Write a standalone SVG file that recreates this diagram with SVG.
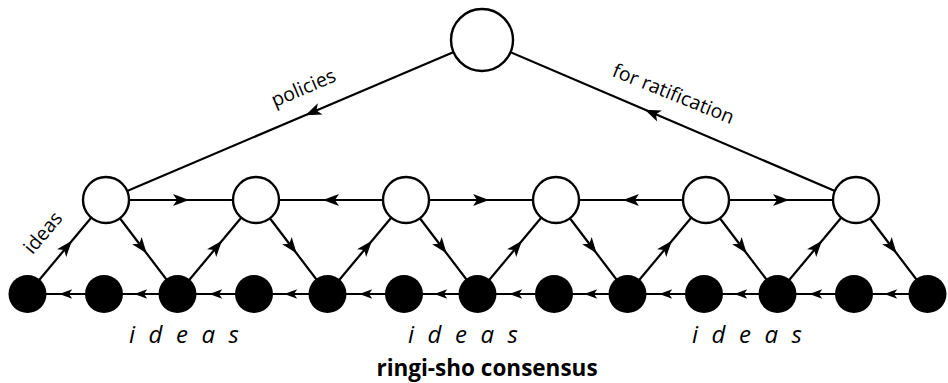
<svg xmlns="http://www.w3.org/2000/svg" width="948" height="383" viewBox="0 0 948 383">
<style>
.c{fill:none;stroke:#000;stroke-width:2.2}
.m{marker-mid:url(#a)}
.s{marker-mid:url(#b)}
.w{fill:#fff;stroke:#000;stroke-width:2.4}
.k{fill:#000}
.t{font-family:"Open Sans","Noto Sans",sans-serif;font-size:19.5px;fill:#000}
.i{font-family:"Open Sans","Noto Sans",sans-serif;font-size:24px;font-style:italic;letter-spacing:13.5px;fill:#000}
.b{font-family:"Open Sans","Noto Sans",sans-serif;font-size:22.5px;font-weight:bold;fill:#000}
</style>
<defs>
<marker id="a" viewBox="-9 -7 18 14" markerWidth="18" markerHeight="14" refX="0" refY="0" orient="auto" markerUnits="userSpaceOnUse"><path d="M8,0 L-8,-6 L-4,0 L-8,6 Z"/></marker>
<marker id="b" viewBox="-8 -6 16 12" markerWidth="16" markerHeight="12" refX="0" refY="0" orient="auto" markerUnits="userSpaceOnUse"><path d="M6.5,0 L-6.5,-4.8 L-3.2,0 L-6.5,4.8 Z"/></marker>
</defs>
<g id="connectors">
<path class="c m" d="M482,40 L312.8,112 L106,200"/>
<path class="c m" d="M856,200 L652.2,112.8 L482,40"/>
<path class="c m" d="M106,200 L181,200 L256,200"/>
<path class="c m" d="M406,200 L331,200 L256,200"/>
<path class="c m" d="M406,200 L481,200 L556,200"/>
<path class="c m" d="M706,200 L631,200 L556,200"/>
<path class="c m" d="M706,200 L781,200 L856,200"/>
<path class="c m" d="M27.5,294 L66.75,247 L106,200"/>
<path class="c m" d="M177.5,294 L216.75,247 L256,200"/>
<path class="c m" d="M327.5,294 L366.75,247 L406,200"/>
<path class="c m" d="M477.5,294 L516.75,247 L556,200"/>
<path class="c m" d="M627.5,294 L666.75,247 L706,200"/>
<path class="c m" d="M777.5,294 L816.75,247 L856,200"/>
<path class="c m" d="M106,200 L141.75,247 L177.5,294"/>
<path class="c m" d="M256,200 L291.75,247 L327.5,294"/>
<path class="c m" d="M406,200 L441.75,247 L477.5,294"/>
<path class="c m" d="M556,200 L591.75,247 L627.5,294"/>
<path class="c m" d="M706,200 L741.75,247 L777.5,294"/>
<path class="c m" d="M856,200 L891.75,247 L927.5,294"/>
<path class="c s" d="M104,294 L65.75,294 L27.5,294"/>
<path class="c s" d="M177.5,294 L140.75,294 L104,294"/>
<path class="c s" d="M254,294 L215.75,294 L177.5,294"/>
<path class="c s" d="M327.5,294 L290.75,294 L254,294"/>
<path class="c s" d="M404,294 L365.75,294 L327.5,294"/>
<path class="c s" d="M477.5,294 L440.75,294 L404,294"/>
<path class="c s" d="M554,294 L515.75,294 L477.5,294"/>
<path class="c s" d="M627.5,294 L590.75,294 L554,294"/>
<path class="c s" d="M704,294 L665.75,294 L627.5,294"/>
<path class="c s" d="M777.5,294 L740.75,294 L704,294"/>
<path class="c s" d="M854,294 L815.75,294 L777.5,294"/>
<path class="c s" d="M927.5,294 L890.75,294 L854,294"/>
</g>
<g id="top"><circle class="w" cx="482" cy="40" r="31"/></g>
<g id="m1"><circle class="w" cx="106" cy="200" r="23"/></g>
<g id="m2"><circle class="w" cx="256" cy="200" r="23"/></g>
<g id="m3"><circle class="w" cx="406" cy="200" r="23"/></g>
<g id="m4"><circle class="w" cx="556" cy="200" r="23"/></g>
<g id="m5"><circle class="w" cx="706" cy="200" r="23"/></g>
<g id="m6"><circle class="w" cx="856" cy="200" r="23"/></g>
<g id="b1"><circle class="k" cx="27.5" cy="294" r="19"/></g>
<g id="b2"><circle class="k" cx="104" cy="294" r="19"/></g>
<g id="b3"><circle class="k" cx="177.5" cy="294" r="19"/></g>
<g id="b4"><circle class="k" cx="254" cy="294" r="19"/></g>
<g id="b5"><circle class="k" cx="327.5" cy="294" r="19"/></g>
<g id="b6"><circle class="k" cx="404" cy="294" r="19"/></g>
<g id="b7"><circle class="k" cx="477.5" cy="294" r="19"/></g>
<g id="b8"><circle class="k" cx="554" cy="294" r="19"/></g>
<g id="b9"><circle class="k" cx="627.5" cy="294" r="19"/></g>
<g id="b10"><circle class="k" cx="704" cy="294" r="19"/></g>
<g id="b11"><circle class="k" cx="777.5" cy="294" r="19"/></g>
<g id="b12"><circle class="k" cx="854" cy="294" r="19"/></g>
<g id="b13"><circle class="k" cx="927.5" cy="294" r="19"/></g>
<g id="labels">
<text class="t" x="306" y="94" text-anchor="middle" transform="rotate(-23.05 306 94)">policies</text>
<text class="t" x="671" y="100" text-anchor="middle" transform="rotate(22 671 100)">for ratification</text>
<text class="t" x="48" y="237" text-anchor="middle" transform="rotate(-50 48 237)">ideas</text>
<text class="i" x="129" y="343">ideas</text>
<text class="i" x="408" y="343">ideas</text>
<text class="i" x="692" y="343">ideas</text>
<text class="b" x="487" y="376" text-anchor="middle">ringi-sho consensus</text>
</g>
</svg>
